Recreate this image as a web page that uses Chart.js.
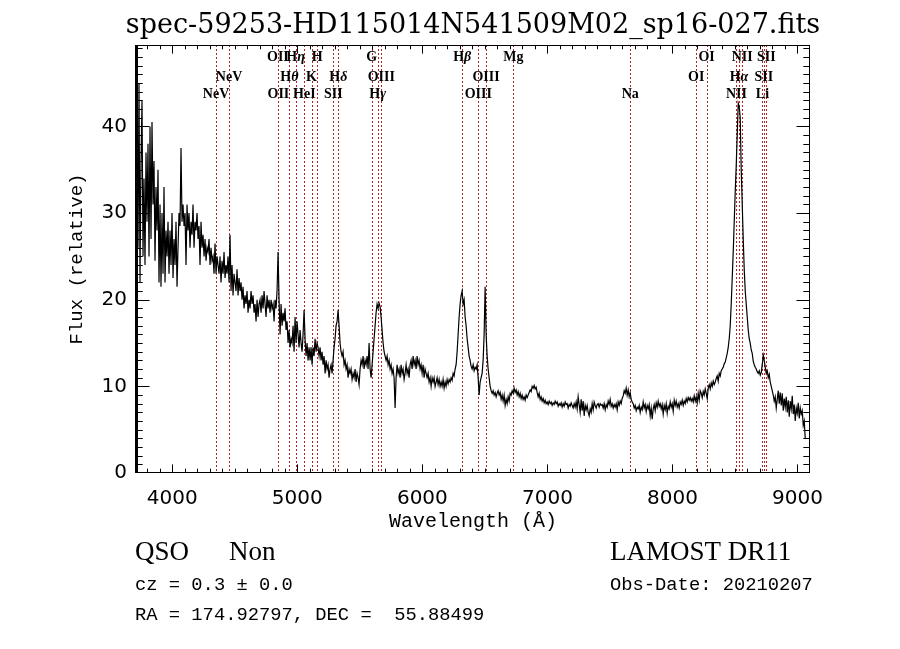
<!DOCTYPE html>
<html>
<head>
<meta charset="utf-8">
<script src="https://cdn.jsdelivr.net/npm/chart.js@4.4.0/dist/chart.umd.min.js"></script>
<style>
  html, body { margin: 0; padding: 0; background: #fff; }
</style>
</head>
<body>
<canvas id="specChart" width="900" height="649"></canvas>
<script>
// wavelength grid (Angstrom)
var wave = [
  3710,3718,3726,3734,3742,3750,3758,3766,3774,3782,
  3790,3798,3806,3814,3822,3830,3838,3846,3854,3862,
  3870,3878,3886,3894,3902,3910,3918,3926,3934,3942,
  3950,3958,3966,3974,3982,3990,3998,4006,4014,4022,
  4030,4038,4046,4054,4062,4070,4078,4086,4094,4102,
  4110,4118,4126,4134,4142,4150,4158,4166,4174,4182,
  4190,4198,4206,4214,4222,4230,4238,4246,4254,4262,
  4270,4278,4286,4294,4302,4310,4318,4326,4334,4342,
  4350,4358,4366,4374,4382,4390,4398,4406,4414,4422,
  4430,4438,4446,4454,4462,4470,4478,4486,4494,4502,
  4510,4518,4526,4534,4542,4550,4558,4566,4574,4582,
  4590,4598,4606,4614,4622,4630,4638,4646,4654,4662,
  4670,4678,4686,4694,4702,4710,4718,4726,4734,4742,
  4750,4758,4766,4774,4782,4790,4798,4806,4814,4822,
  4830,4838,4846,4854,4862,4870,4878,4886,4894,4902,
  4910,4918,4926,4934,4942,4950,4958,4966,4974,4982,
  4990,4998,5006,5014,5022,5030,5038,5046,5054,5062,
  5070,5078,5086,5094,5102,5110,5118,5126,5134,5142,
  5150,5158,5166,5174,5182,5190,5198,5206,5214,5222,
  5230,5238,5246,5254,5262,5270,5278,5286,5294,5302,
  5310,5318,5326,5334,5342,5350,5358,5366,5374,5382,
  5390,5398,5406,5414,5422,5430,5438,5446,5454,5462,
  5470,5478,5486,5494,5502,5510,5518,5526,5534,5542,
  5550,5558,5566,5574,5582,5590,5598,5606,5614,5622,
  5630,5638,5646,5654,5662,5670,5678,5686,5694,5702,
  5710,5718,5726,5734,5742,5750,5758,5766,5774,5782,
  5790,5798,5806,5814,5822,5830,5838,5846,5854,5862,
  5870,5878,5886,5894,5902,5910,5918,5926,5934,5942,
  5950,5958,5966,5974,5982,5990,5998,6006,6014,6022,
  6030,6038,6046,6054,6062,6070,6078,6086,6094,6102,
  6110,6118,6126,6134,6142,6150,6158,6166,6174,6182,
  6190,6198,6206,6214,6222,6230,6238,6246,6254,6262,
  6270,6278,6286,6294,6302,6310,6318,6326,6334,6342,
  6350,6358,6366,6374,6382,6390,6398,6406,6414,6422,
  6430,6438,6446,6454,6462,6470,6478,6486,6494,6502,
  6510,6518,6526,6534,6542,6550,6558,6566,6574,6582,
  6590,6598,6606,6614,6622,6630,6638,6646,6654,6662,
  6670,6678,6686,6694,6702,6710,6718,6726,6734,6742,
  6750,6758,6766,6774,6782,6790,6798,6806,6814,6822,
  6830,6838,6846,6854,6862,6870,6878,6886,6894,6902,
  6910,6918,6926,6934,6942,6950,6958,6966,6974,6982,
  6990,6998,7006,7014,7022,7030,7038,7046,7054,7062,
  7070,7078,7086,7094,7102,7110,7118,7126,7134,7142,
  7150,7158,7166,7174,7182,7190,7198,7206,7214,7222,
  7230,7238,7246,7254,7262,7270,7278,7286,7294,7302,
  7310,7318,7326,7334,7342,7350,7358,7366,7374,7382,
  7390,7398,7406,7414,7422,7430,7438,7446,7454,7462,
  7470,7478,7486,7494,7502,7510,7518,7526,7534,7542,
  7550,7558,7566,7574,7582,7590,7598,7606,7614,7622,
  7630,7638,7646,7654,7662,7670,7678,7686,7694,7702,
  7710,7718,7726,7734,7742,7750,7758,7766,7774,7782,
  7790,7798,7806,7814,7822,7830,7838,7846,7854,7862,
  7870,7878,7886,7894,7902,7910,7918,7926,7934,7942,
  7950,7958,7966,7974,7982,7990,7998,8006,8014,8022,
  8030,8038,8046,8054,8062,8070,8078,8086,8094,8102,
  8110,8118,8126,8134,8142,8150,8158,8166,8174,8182,
  8190,8198,8206,8214,8222,8230,8238,8246,8254,8262,
  8270,8278,8286,8294,8302,8310,8318,8326,8334,8342,
  8350,8358,8366,8374,8382,8390,8398,8406,8414,8422,
  8430,8438,8446,8454,8462,8470,8478,8486,8494,8502,
  8510,8518,8526,8534,8542,8550,8558,8566,8574,8582,
  8590,8598,8606,8614,8622,8630,8638,8646,8654,8662,
  8670,8678,8686,8694,8702,8710,8718,8726,8734,8742,
  8750,8758,8766,8774,8782,8790,8798,8806,8814,8822,
  8830,8838,8846,8854,8862,8870,8878,8886,8894,8902,
  8910,8918,8926,8934,8942,8950,8958,8966,8974,8982,
  8990,8998,9006,9014,9022,9030,9038,9046,9054,9062
];

// relative flux at each wavelength
var flux = [
  30, 44, 26, 45, 22, 36, 43, 25, 34, 24,
  37, 29, 38, 25, 40, 27, 40.5, 31, 36, 24.5,
  33, 28, 35, 22, 31, 21.5, 30, 23, 33, 22,
  28, 25, 29, 23, 28, 24, 30, 22.5, 27, 24,
  29, 21.5, 26, 30, 28.5, 37.5, 29, 31, 28.5, 30,
  24, 31, 28, 30, 26, 29, 27.5, 31, 26, 29,
  28, 30, 27, 28.5, 24, 29, 26, 27.5, 25, 27,
  24.5, 26, 25.5, 27, 24, 26, 24.5, 25, 23, 26.5,
  23, 25, 24, 23, 25, 22, 24.5, 23, 25.5, 22.5,
  24, 23, 25, 22, 27.5, 21, 24, 20.5, 23, 22,
  21, 23.5, 20.5, 22.5, 21, 22, 20, 21.5, 19, 20.5,
  19.5, 21, 18.5, 20, 19, 21, 19.5, 20.5, 18.5, 19.5,
  17.5, 20, 18, 19.5, 20, 18.5, 20.5, 19, 21, 19.5,
  18, 20.5, 19, 20, 18.5, 20, 19, 19.5, 17.5, 20,
  19, 21, 25.5, 20, 16, 19.5, 17, 18.5, 17.5, 19,
  16.5, 17.5, 15, 16.5, 14.5, 15.5, 15, 17, 14, 18,
  15, 17.5, 16, 14.5, 16.5, 15, 14, 16, 18.8, 15.5,
  13.5, 15, 13, 14.5, 13, 14.5, 12.5, 14.5, 13.5, 15.5,
  14, 15, 14.5, 13.5, 14.5, 13, 14, 12.5, 13.5, 11.5,
  13, 12, 12.5, 11, 12, 12.5, 11.5, 13, 14.5, 15.5,
  17, 17.5, 18.8, 17, 15, 14, 13.5, 14, 12.5, 13,
  12, 12.5, 11, 12, 11.5, 12, 10.8, 11.5, 11, 12,
  10.5, 11.5, 11, 10.2, 12, 13, 12.5, 13.5, 12, 13,
  12.5, 13.5, 12, 15, 12, 11, 12.5, 14, 15.5, 17,
  18.5, 19.5, 19, 19.6, 19.2, 18, 16.5, 15, 14, 13.5,
  13, 13.5, 12.5, 13, 12, 12.5, 11.5, 12, 11, 7.5,
  11, 12.5, 11.5, 12, 11, 12.5, 11.5, 12, 10.8, 11.5,
  12.5, 11.5, 12, 11, 12.5, 13, 12, 13.5, 12.5, 13,
  12, 13.5, 12.5, 13, 12, 12.5, 11.5, 12.5, 11, 12,
  11.5, 11, 11.5, 10.5, 11, 10, 11, 10.5, 11, 10,
  10.5, 11, 10.2, 10.8, 10, 10.5, 10, 10.8, 9.8, 10.5,
  10, 10.8, 10.3, 10.8, 10.5, 11, 10.7, 11.5, 11.2, 12,
  12.5, 14, 16, 18, 19.5, 20.5, 21, 19.5, 20, 18,
  17, 15.5, 14.5, 13.5, 13, 12.3, 12, 12.5, 11.8, 12.2,
  12, 12.5, 11, 9, 10.5, 11, 11.5, 13, 16, 21.5,
  16, 13.5, 12, 11, 10, 9.5, 9.2, 9.5, 9, 9.3,
  8.8, 9.2, 9.5, 9, 9.3, 8.5, 9, 8.3, 9, 7.8,
  8.5, 8, 8.8, 8.3, 9.2, 9, 9.5, 9.2, 9.8, 9.3,
  9.6, 9, 9.4, 8.8, 9.2, 8.6, 9, 8.5, 8.8, 8.4,
  9, 8.7, 9, 9.3, 9.6, 9.4, 10, 9.8, 10.1, 9.7,
  9.9, 9.3, 8.8, 9.2, 8.5, 8.8, 8.3, 8.6, 8.1, 8.4,
  8, 8.2, 7.9, 8.3, 8, 8.2, 7.8, 8.1, 7.9, 8.3,
  8, 8.2, 7.7, 8, 7.8, 8.1, 7.6, 8, 7.7, 8.2,
  7.9, 8, 7.5, 7.9, 7.7, 8.1, 7.8, 7.5, 8, 7.6,
  8.2, 7.4, 8.8, 7.9, 7, 8.5, 7.2, 8.3, 6.6, 7.8,
  7.3, 7.8, 7, 6.6, 7.4, 7, 8, 7.3, 8.2, 7.8,
  7.5, 7.9, 8, 7.6, 8, 7.8, 7.9, 7.5, 8, 7.3,
  7.9, 7.6, 8.3, 7.9, 8.5, 7.7, 8, 7.5, 7.9, 7.6,
  8, 7.3, 8.2, 7.8, 8.3, 8, 8.6, 8.9, 9.5, 9.2,
  9.8, 9, 9.6, 8.8, 9.3, 8.5, 8.2, 8, 7.5, 7.8,
  7.2, 7.6, 7.4, 7.8, 7, 7.6, 7.3, 8.2, 7.5, 7.9,
  7.1, 7.8, 7.4, 7.9, 6.6, 7.5, 6.2, 7.4, 7.9, 7.2,
  8.1, 7.6, 8.3, 7.7, 8, 7.4, 7.9, 6.8, 7.8, 7.3,
  8, 6.9, 7.7, 7.4, 8.2, 7.6, 8, 7.1, 8.4, 7.8,
  8.3, 7.6, 8, 7.5, 8.2, 7.9, 8.4, 7.8, 8.3, 8,
  8.6, 8.2, 8.7, 8.4, 8.7, 8.3, 8.6, 8.2, 8.9, 8.3,
  8.8, 8.1, 9.2, 8.4, 9.5, 9.2, 8.7, 9.4, 9, 9.7,
  9.2, 8.6, 9.8, 10.2, 9.7, 10.4, 10, 10.6, 10.2, 10.5,
  10.9, 11.2, 10.6, 11.5, 11.2, 11.8, 12, 12.2, 12.6, 12.8,
  13.3, 13.8, 14.5, 15.5, 17, 19.5, 22.5, 25.5, 29, 32.5,
  35.5, 39, 42.7, 42.3, 41, 35, 31, 27, 23.5, 21,
  19.5, 18, 16.5, 15.5, 15, 14.2, 13.8, 12.9, 12.5, 12.2,
  12, 11.7, 11.5, 11.8, 11.3, 11.6, 12.5, 13.6, 13, 12.2,
  11.5, 11.8, 11, 11.4, 10.5, 10, 9.5, 9, 8.3, 8.8,
  7.5, 8.5, 9.5, 8, 9.3, 7.8, 9.2, 7.2, 8.6, 7.6,
  8.8, 7, 8.4, 6.5, 8.3, 7.4, 8.9, 6.8, 7.9, 6,
  7.5, 6.9, 8.1, 6.3, 7.5, 6.8, 7.2, 5.5, 6, 4
];

// marked lines (observed wavelength), name and greek suffix
var lineWave  = [4350, 4454, 4845, 4849, 4937, 4986, 5056, 5114, 5160, 5288, 5328,
                 5595, 5643, 5672, 6319, 6447, 6509, 6728, 7662, 8190, 8273,
                 8512, 8532, 8558, 8720, 8731, 8750];
var lineName  = ['NeV', 'NeV', 'OII', 'OII', 'H', 'H', 'HeI', 'K', 'H', 'SII', 'H',
                 'G', 'H', 'OIII', 'H', 'OIII', 'OIII', 'Mg', 'Na', 'OI', 'OI',
                 'NII', 'H', 'NII', 'Li', 'SII', 'SII'];
var lineGreek = ['', '', '', '', 'θ', 'η', '', '', '', '', 'δ',
                 '', 'γ', '', 'β', '', '', '', '', '', '',
                 '', 'α', '', '', '', ''];

var xTickValues = [4000, 5000, 6000, 7000, 8000, 9000];
var yTickValues = [0, 10, 20, 30, 40];
var xMin = 3710, xMax = 9100, yMin = 0, yMax = 49.4;

var titleText = 'spec-59253-HD115014N541509M02_sp16-027.fits';
var xTitle = 'Wavelength (Å)';
var yTitle = 'Flux (relative)';
var objClass = 'QSO', objSub = 'Non';
var survey = 'LAMOST DR11';
var czText = 'cz = 0.3 ± 0.0';
var obsDate = 'Obs-Date: 20210207';
var coordText = 'RA = 174.92797, DEC =  55.88499';

var lineRed = '#b22222';

/**
 * Dotted red marker lines, drawn under the spectrum
 */
var markerPlugin = {
    id: 'markers',
    beforeDatasetsDraw: function(chart) {
        var ctx = chart.ctx;
        var xs = chart.scales.x, ys = chart.scales.y;
        ctx.save();
        ctx.strokeStyle = lineRed;
        ctx.lineWidth = 1;
        ctx.setLineDash([2, 2]);
        ctx.beginPath();
        for (var i = 0; i < lineWave.length; i++) {
            var px = Math.round(xs.getPixelForValue(lineWave[i])) + 0.5;
            ctx.moveTo(px, ys.getPixelForValue(yMax));
            ctx.lineTo(px, ys.getPixelForValue(yMin));
        }
        ctx.stroke();
        ctx.restore();
    }
};

/**
 * Title, frame, tick marks, line labels and info text
 */
var decorPlugin = {
    id: 'decor',
    afterDatasetsDraw: function(chart) {
        var ctx = chart.ctx;
        var a = chart.chartArea;
        var xs = chart.scales.x, ys = chart.scales.y;
        ctx.save();

        // title, centred over the plot box
        ctx.fillStyle = '#000';
        ctx.font = '27px "DejaVu Serif"';
        ctx.textAlign = 'center';
        ctx.textBaseline = 'alphabetic';
        ctx.fillText(titleText, (a.left + a.right) / 2, 33);

        // frame
        ctx.fillRect(a.left - 1, a.top, 3, a.bottom - a.top);
        ctx.strokeStyle = '#000';
        ctx.lineWidth = 1;
        ctx.beginPath();
        ctx.moveTo(a.left, a.top + 0.5); ctx.lineTo(a.right, a.top + 0.5);
        ctx.moveTo(a.left, a.bottom - 0.5); ctx.lineTo(a.right, a.bottom - 0.5);
        ctx.moveTo(a.right - 0.5, a.top); ctx.lineTo(a.right - 0.5, a.bottom);

        // x ticks every 100 A, major every 1000
        for (var w = 3800; w < xMax; w += 100) {
            var px = Math.round(xs.getPixelForValue(w)) + 0.5;
            var len = (w % 1000 === 0) ? 8.6 : 4.3;
            ctx.moveTo(px, a.bottom); ctx.lineTo(px, a.bottom - len);
            ctx.moveTo(px, a.top); ctx.lineTo(px, a.top + len);
        }
        // y ticks every 1, major every 10
        for (var v = 1; v < yMax; v++) {
            var py = Math.round(ys.getPixelForValue(v)) + 0.5;
            var l2 = (v % 10 === 0) ? 13.5 : 6.7;
            ctx.moveTo(a.left, py); ctx.lineTo(a.left + l2, py);
            ctx.moveTo(a.right, py); ctx.lineTo(a.right - l2, py);
        }
        ctx.stroke();

        // line labels, three staggered rows
        var rowBase = [60.5, 80.5, 97.5];
        var fRoman = 'bold 14px "Liberation Serif"';
        var fGreek = 'bold italic 14px "Liberation Serif"';
        ctx.textAlign = 'left';
        for (var i = 0; i < lineWave.length; i++) {
            var cx = xs.getPixelForValue(lineWave[i]);
            var row = 2 - (i % 3);
            ctx.font = fRoman;
            var w1 = ctx.measureText(lineName[i]).width;
            ctx.font = fGreek;
            var w2 = lineGreek[i] ? ctx.measureText(lineGreek[i]).width : 0;
            var x0 = cx - (w1 + w2) / 2;
            ctx.font = fRoman;
            ctx.fillText(lineName[i], x0, rowBase[row]);
            if (lineGreek[i]) {
                ctx.font = fGreek;
                ctx.fillText(lineGreek[i], x0 + w1, rowBase[row]);
            }
        }

        // info block under the plot
        ctx.font = '27px "Liberation Serif"';
        ctx.fillText(objClass, 135, 560);
        ctx.fillText(objSub, 229, 560);
        ctx.fillText(survey, 610, 560);
        ctx.font = '18.8px "Liberation Mono"';
        ctx.fillText(czText, 135, 590);
        ctx.fillText(obsDate, 610, 590);
        ctx.fillText(coordText, 135, 620);

        ctx.restore();
    }
};

function initSpecChart() {
    var ctx = document.getElementById('specChart').getContext('2d');

    var points = [];
    for (var i = 0; i < wave.length; i++) {
        points.push({x: wave[i], y: flux[i]});
    }

    new Chart(ctx, {
        type: 'line',
        data: {
            datasets: [{
                data: points,
                borderColor: '#000',
                borderWidth: 1.2,
                pointRadius: 0,
                tension: 0
            }]
        },
        plugins: [markerPlugin, decorPlugin],
        options: {
            responsive: false,
            animation: false,
            devicePixelRatio: 1,
            layout: { padding: { left: 0, right: 90, top: 45, bottom: 0 } },
            plugins: {
                legend: { display: false },
                tooltip: { enabled: false },
                title: { display: false }
            },
            scales: {
                x: {
                    type: 'linear',
                    min: xMin,
                    max: xMax,
                    grid: { display: false },
                    border: { display: false },
                    afterBuildTicks: function(s) {
                        s.ticks = xTickValues.map(function(v) { return {value: v}; });
                    },
                    afterFit: function(s) { s.height = 176; },
                    ticks: {
                        color: '#000',
                        font: { family: 'DejaVu Sans', size: 20 },
                        padding: 6,
                        maxRotation: 0,
                        autoSkip: false,
                        callback: function(v) { return String(v); }
                    },
                    title: {
                        display: true,
                        text: xTitle,
                        color: '#000',
                        font: { family: 'Liberation Mono', size: 20 },
                        padding: { top: 0, bottom: 115 }
                    }
                },
                y: {
                    type: 'linear',
                    min: yMin,
                    max: yMax,
                    grid: { display: false },
                    border: { display: false },
                    afterBuildTicks: function(s) {
                        s.ticks = yTickValues.map(function(v) { return {value: v}; });
                    },
                    afterFit: function(s) { s.width = 136; },
                    ticks: {
                        color: '#000',
                        font: { family: 'DejaVu Sans', size: 20 },
                        padding: 1,
                        callback: function(v) { return String(v); }
                    },
                    title: {
                        display: true,
                        text: yTitle,
                        color: '#000',
                        font: { family: 'Liberation Mono', size: 19 },
                        padding: { top: 66, bottom: 0 }
                    }
                }
            }
        }
    });
}

initSpecChart();
</script>
</body>
</html>
